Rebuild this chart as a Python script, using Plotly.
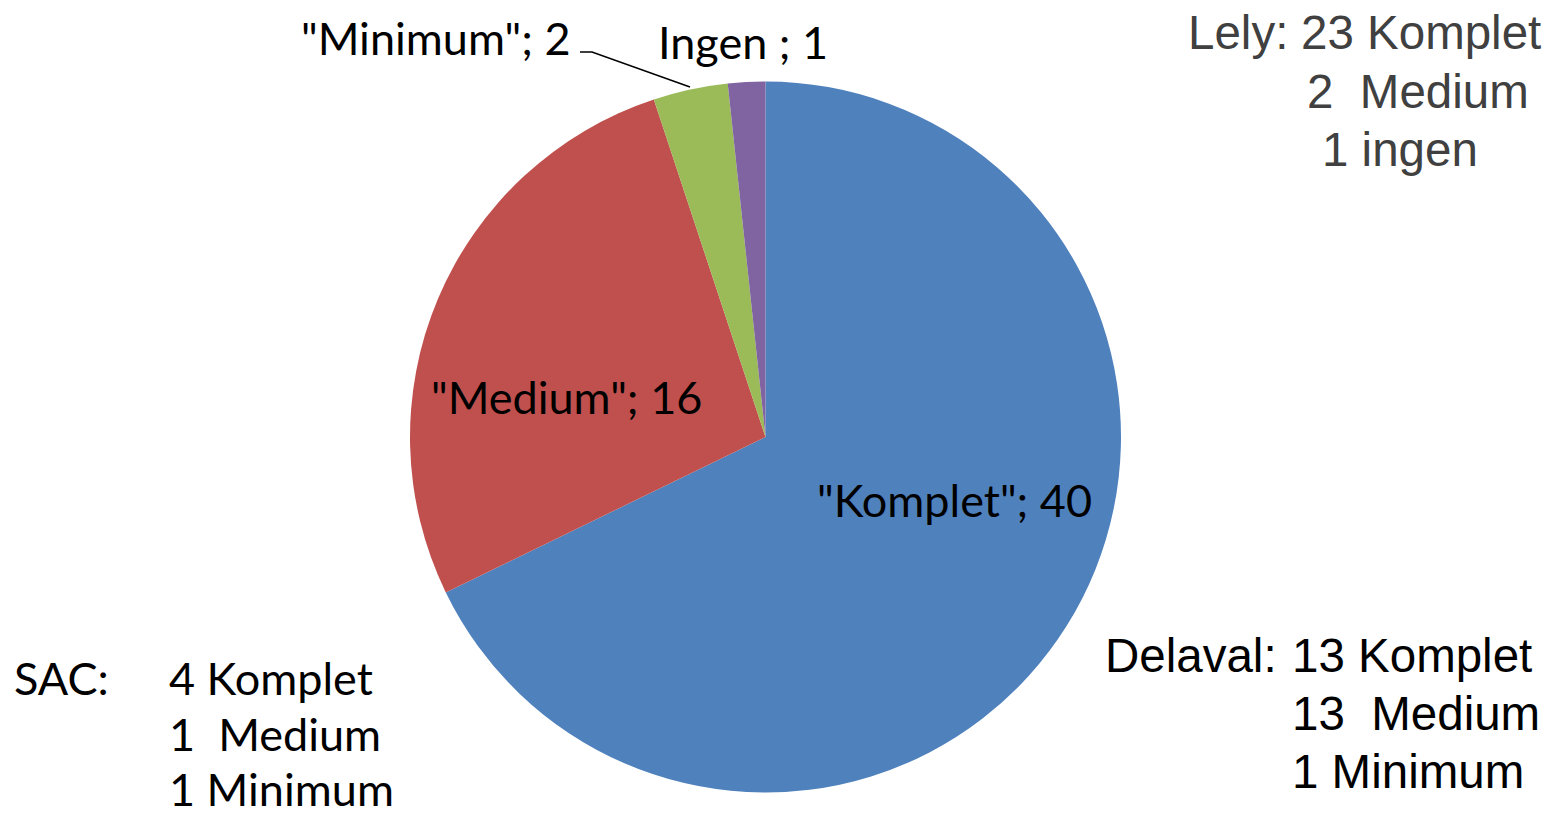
import plotly.graph_objects as go

# Data
categories = ['"Komplet"', '"Medium"', '"Minimum"', 'Ingen ']
values = [40, 16, 2, 1]
colors = ["#4F81BD", "#C0504D", "#9BBB59", "#8064A2"]

lely_lines = ["Lely:", "23 Komplet", "2  Medium", "1 ingen"]
delaval_lines = ["Delaval:", "13 Komplet", "13  Medium", "1 Minimum"]
sac_lines = ["SAC:", "4 Komplet", "1  Medium", "1 Minimum"]

W, H = 1548, 819
cx, cy, r = 765.5, 437, 355.5


def px(x):
    return x / W


def py(y):
    return 1 - y / H


fig = go.Figure(go.Pie(
    labels=categories,
    values=values,
    sort=False,
    direction="clockwise",
    rotation=0,
    marker=dict(colors=colors, line=dict(width=0)),
    textinfo="none",
    hoverinfo="label+value",
    domain=dict(x=[px(cx - r), px(cx + r)], y=[py(cy + r), py(cy - r)]),
    showlegend=False,
))

calibri = "Lato, 'Open Sans', sans-serif"
arial = "'Liberation Sans', Arial, sans-serif"
lab_size = 45
ar_size = 47.5

annotations = []

def add(text, x, y, font, size, color="#000000", xanchor="left"):
    annotations.append(dict(
        text=text, x=px(x), y=py(y), xref="paper", yref="paper",
        xanchor=xanchor, yanchor="middle", showarrow=False,
        font=dict(family=font, size=size, color=color),
    ))

# slice labels
slice_text = [f"{c}; {v}" for c, v in zip(categories, values)]
add(slice_text[0], 955, 500, calibri, lab_size, xanchor="center")
add(slice_text[1], 566, 397, calibri, lab_size, xanchor="center")
add(slice_text[2], 573, 38, calibri, lab_size, xanchor="right")
add(slice_text[3], 743, 42, calibri, lab_size, xanchor="center")

# Lely block
gray = "#404040"
add(lely_lines[0], 1186, 33, arial, ar_size, gray)
add(lely_lines[1], 1299, 33, arial, ar_size, gray)
add(lely_lines[2], 1305, 91, arial, ar_size, gray)
add(lely_lines[3], 1320, 149, arial, ar_size, gray)

# Delaval block
add(delaval_lines[0], 1103, 655, arial, ar_size)
add(delaval_lines[1], 1290, 655, arial, ar_size)
add(delaval_lines[2], 1290, 713, arial, ar_size)
add(delaval_lines[3], 1290, 771, arial, ar_size)

# SAC block
add(sac_lines[0], 12, 678, calibri, lab_size)
add(sac_lines[1], 167, 678, calibri, lab_size)
add(sac_lines[2], 167, 734, calibri, lab_size)
add(sac_lines[3], 167, 789, calibri, lab_size)

# leader line for the "Minimum" label
shapes = [dict(
    type="path", xref="paper", yref="paper",
    path=f"M {px(580)},{py(52)} L {px(592)},{py(52)} L {px(690)},{py(87)}",
    line=dict(color="#000000", width=1.5),
)]

fig.update_layout(
    width=W, height=H,
    margin=dict(l=0, r=0, t=0, b=0),
    paper_bgcolor="white",
    plot_bgcolor="white",
    annotations=annotations,
    shapes=shapes,
    showlegend=False,
)

fig.write_html(
    "out.html",
    config={"displayModeBar": False},
    post_script="document.body.style.margin='0';document.body.style.overflow='hidden';",
)
